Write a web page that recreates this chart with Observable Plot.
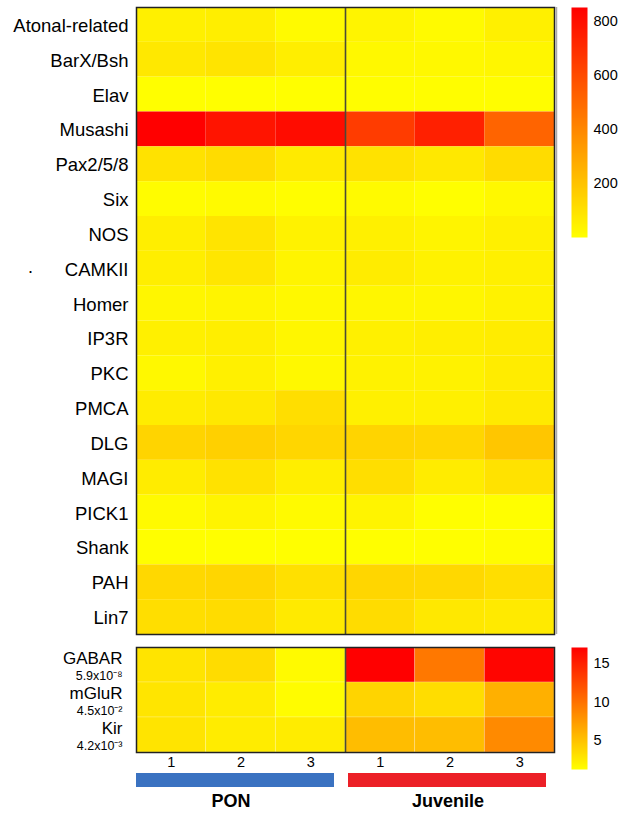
<!DOCTYPE html>
<html>
<head>
<meta charset="utf-8">
<script src="https://cdn.jsdelivr.net/npm/d3@7"></script>
<script src="https://cdn.jsdelivr.net/npm/@observablehq/plot@0.6"></script>
<style>
  html, body { margin: 0; padding: 0; background: #fff; }
  #wrap { position: relative; width: 621px; height: 819px; overflow: hidden; font-family: "Liberation Sans", Arial, sans-serif; }
  #wrap > div { position: absolute; }
  svg { overflow: visible; }
</style>
</head>
<body>
<div id="wrap">
  <div id="top" style="left:0;top:0"></div>
  <div id="topLegend" style="left:560px;top:0"></div>
  <div id="bottom" style="left:0;top:640px"></div>
  <div id="bottomLegend" style="left:560px;top:640px"></div>
  <div id="groups" style="left:0;top:773px"></div>
</div>
<script>
// ---------- data ----------
const genesTop = ["Atonal-related","BarX/Bsh","Elav","Musashi","Pax2/5/8","Six","NOS","CAMKII","Homer","IP3R","PKC","PMCA","DLG","MAGI","PICK1","Shank","PAH","Lin7"];
const samples = ["PON 1","PON 2","PON 3","Juvenile 1","Juvenile 2","Juvenile 3"];
const replicateLabels = ["1","2","3","1","2","3"];
// values per sample, in the order of genesTop
const pon1 = [50, 77, 3, 852, 97, 10, 57, 57, 30, 50, 23, 63, 144, 63, 17, 3, 130, 110];
const pon2 = [57, 90, 3, 785, 117, 17, 90, 84, 37, 57, 50, 77, 157, 97, 37, 3, 137, 117];
const pon3 = [17, 57, 3, 812, 70, 7, 43, 37, 23, 30, 23, 110, 137, 57, 17, 3, 104, 70];
const juv1 = [37, 23, 7, 652, 97, 17, 50, 63, 30, 50, 43, 50, 144, 110, 37, 3, 137, 117];
const juv2 = [17, 23, 7, 745, 77, 3, 37, 43, 30, 57, 43, 50, 137, 63, 3, 3, 130, 77];
const juv3 = [50, 30, 7, 518, 117, 23, 50, 50, 43, 63, 63, 70, 190, 97, 3, 10, 110, 70];

const genesBottom = ["GABAR","mGluR","Kir"];
const pValues = ["5.9x10\u207B\u2078","4.5x10\u207B\u00B2","4.2x10\u207B\u00B3"];
const pon1B = [2.9, 2.8, 2.9];
const pon2B = [3.4, 2.4, 2.4];
const pon3B = [1.5, 1.4, 2.4];
const juv1B = [17.1, 3.9, 5.3];
const juv2B = [9.6, 3.3, 5.3];
const juv3B = [16.8, 6.1, 8.5];

const topTicks = [200, 400, 600, 800];
const bottomTicks = [5, 10, 15];
const groups = ["PON", "Juvenile"];

// ---------- build tables ----------
const topCols = [pon1, pon2, pon3, juv1, juv2, juv3];
const bottomCols = [pon1B, pon2B, pon3B, juv1B, juv2B, juv3B];
const topData = topCols.flatMap((col, j) => col.map((v, i) => ({gene: genesTop[i], col: j, sample: samples[j], value: v})));
const bottomData = bottomCols.flatMap((col, j) => col.map((v, i) => ({gene: genesBottom[i], col: j, sample: samples[j], value: v})));
const bottomLabels = genesBottom.map((g, i) => ({gene: g, p: pValues[i]}));

const font = {fontFamily: "Liberation Sans, Arial, sans-serif", color: "#000", background: "transparent", overflow: "visible"};
const topColor = {type: "linear", domain: [0, 852], range: ["#ffff00", "#ff0000"], interpolate: "rgb"};
const bottomColor = {type: "linear", domain: [1.2, 17.1], range: ["#ffff00", "#ff0000"], interpolate: "rgb"};

// ---------- top heatmap ----------
const topPlot = Plot.plot({
  width: 560, height: 640,
  marginLeft: 136, marginRight: 6, marginTop: 7, marginBottom: 6,
  style: {...font, fontSize: "18px"},
  x: {domain: [0, 6], axis: null},
  y: {domain: genesTop, padding: 0, round: false, label: null},
  color: topColor,
  marks: [
    Plot.barX(topData, {x1: "col", x2: d => d.col + 1, y: "gene", fill: "value", inset: 0}),
    Plot.ruleX([6], {dx: 2, stroke: "#aaa", strokeWidth: 1.5}),
    Plot.ruleX([3], {stroke: "#4a4a38", strokeWidth: 1.6}),
    Plot.frame({stroke: "#222", strokeWidth: 1.5}),
    Plot.axisY({tickSize: 0, tickPadding: 8, fontSize: 18.5, label: null, fill: "#000", dy: 1}),
    Plot.text(["."], {x: 0, y: () => "CAMKII", dx: -106, dy: -2, fontSize: 18, fill: "#000"})
  ]
});
document.getElementById("top").append(topPlot);

// ---------- legends ----------
function legend(color, domain, ticks, height, mTop, mBottom) {
  const marks = [];
  if (Plot.raster) {
    marks.push(Plot.raster({x1: 0, x2: 1, y1: domain[0], y2: domain[1], width: 1, height: 256, fill: (x, y) => y}));
  } else {
    const stops = d3.range(256).map(k => domain[0] + (domain[1] - domain[0]) * k / 256);
    const step = (domain[1] - domain[0]) / 256;
    marks.push(Plot.rect(stops, {x1: 0, x2: 1, y1: d => d, y2: d => d + step, fill: d => d + step / 2}));
  }
  marks.push(Plot.axisY({anchor: "right", ticks, tickSize: 0, tickPadding: 6, fontSize: 14.5, label: null, fill: "#000"}));
  return Plot.plot({
    width: 61, height,
    marginLeft: 11, marginRight: 34, marginTop: mTop, marginBottom: mBottom,
    style: {...font, fontSize: "14.5px"},
    x: {domain: [0, 1], axis: null},
    y: {domain, axis: null},
    color,
    marks
  });
}
document.getElementById("topLegend").append(legend(topColor, [0, 852], topTicks, 245, 7, 8));
document.getElementById("bottomLegend").append(legend(bottomColor, [1.2, 17.1], bottomTicks, 135, 7, 6));

// ---------- bottom heatmap ----------
const bottomPlot = Plot.plot({
  width: 560, height: 133,
  marginLeft: 136, marginRight: 6, marginTop: 7, marginBottom: 21,
  style: {...font, fontSize: "14.5px"},
  x: {domain: [0, 6], axis: null},
  y: {domain: genesBottom, padding: 0, round: false, axis: null},
  color: bottomColor,
  marks: [
    Plot.barX(bottomData, {x1: "col", x2: d => d.col + 1, y: "gene", fill: "value", inset: 0, stroke: "#fff", strokeOpacity: 0.25, strokeWidth: 0.8}),
    Plot.ruleX([3], {stroke: "#4a4a38", strokeWidth: 1.6}),
    Plot.frame({stroke: "#222", strokeWidth: 1.5}),
    Plot.axisX({ticks: d3.range(6).map(k => k + 0.5), tickFormat: d => replicateLabels[Math.floor(d)], tickSize: 0, tickPadding: 4, fontSize: 14.5, label: null, fill: "#000"}),
    Plot.text(bottomLabels, {x: 0, y: "gene", text: "gene", dx: -14, dy: -6, textAnchor: "end", fontSize: 17, fill: "#000"}),
    Plot.text(bottomLabels, {x: 0, y: "gene", text: "p", dx: -14, dy: 10.5, textAnchor: "end", fontSize: 12.5, fill: "#000"})
  ]
});
document.getElementById("bottom").append(bottomPlot);

// ---------- group bars ----------
const groupPlot = Plot.plot({
  width: 560, height: 46,
  marginLeft: 136, marginRight: 6, marginTop: 0, marginBottom: 32,
  style: {...font, fontSize: "18px"},
  x: {domain: [0, 6], axis: null},
  marks: [
    Plot.barX([groups[0]], {x1: 0, x2: 3, fill: "#3a72c1", insetRight: 11}),
    Plot.barX([groups[1]], {x1: 3, x2: 6, fill: "#ec2027", insetLeft: 3, insetRight: 8}),
    Plot.text([groups[0]], {x: 1.5, text: d => d, frameAnchor: "bottom", dy: 19, dx: -10, fontWeight: "bold", fontSize: 18, fill: "#000"}),
    Plot.text([groups[1]], {x: 4.5, text: d => d, frameAnchor: "bottom", dy: 19, dx: -2, fontWeight: "bold", fontSize: 18, fill: "#000"})
  ]
});
document.getElementById("groups").append(groupPlot);
</script>
</body>
</html>
